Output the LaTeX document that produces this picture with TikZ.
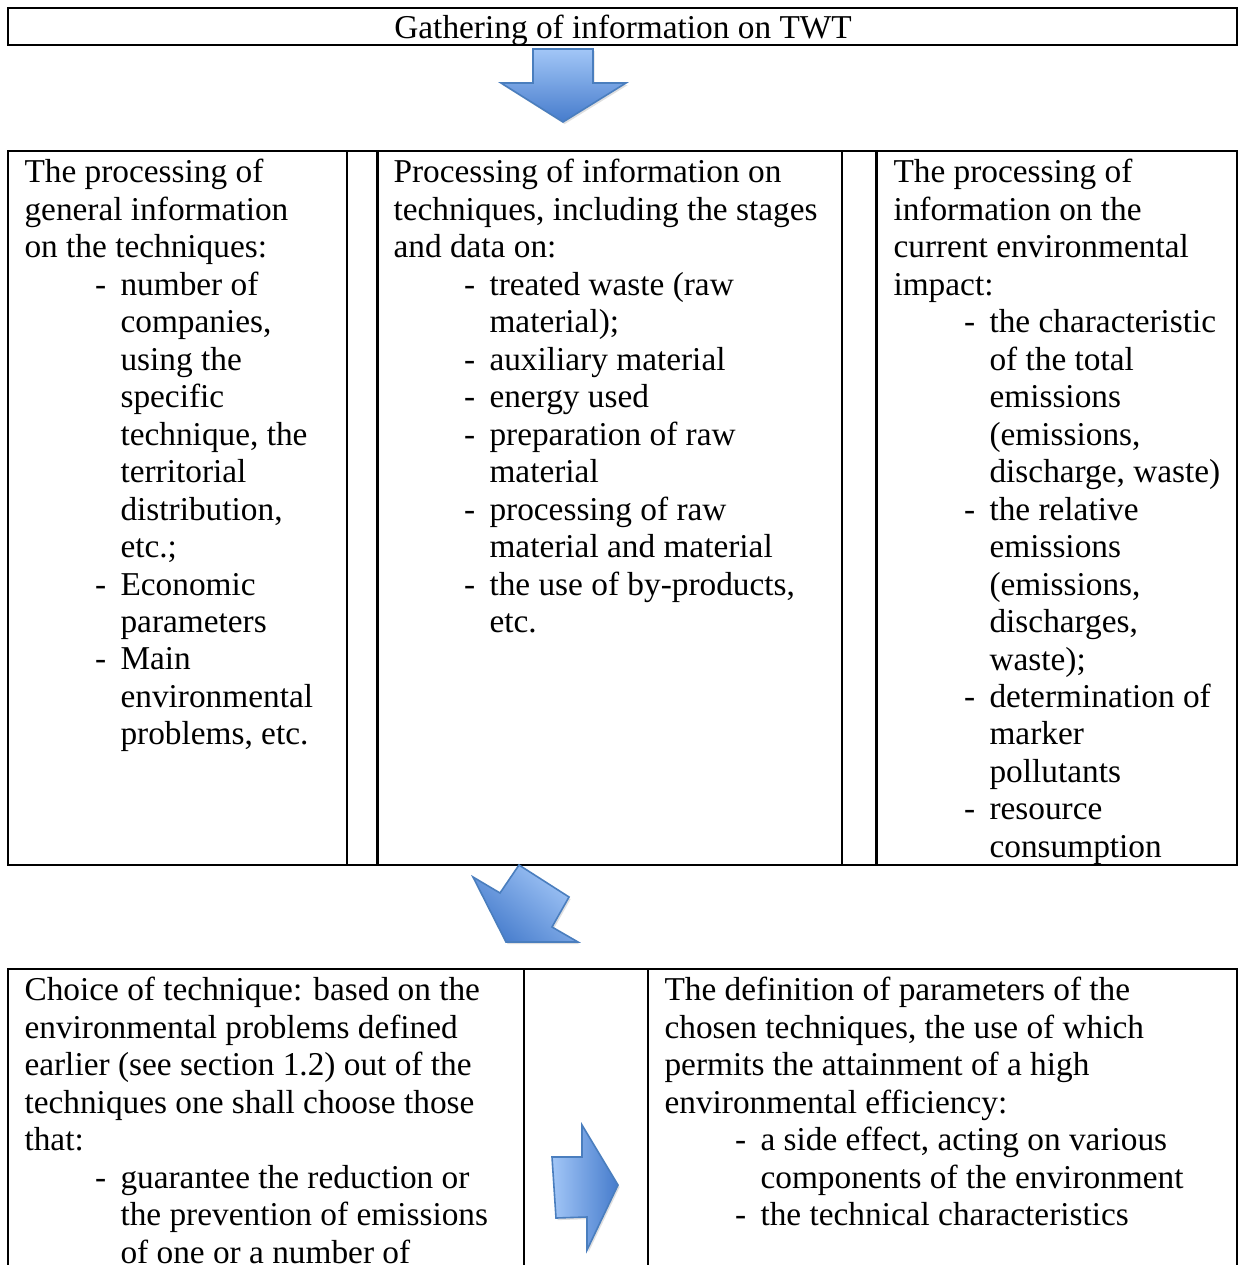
\documentclass[tikz,border=0pt]{standalone}
\usepackage{fontspec}
\setmainfont{Liberation Serif}
\usetikzlibrary{shadows}
\definecolor{arrowlight}{RGB}{162,198,247}
\definecolor{arrowdark}{RGB}{70,124,204}
\definecolor{arrowline}{RGB}{74,126,190}
\newcommand\itm[1]{\makebox[36pt][l]{\hspace*{26.5pt}-}#1}
\newcommand\cnt[1]{\hspace*{36pt}#1}
\tikzset{
  frame/.style={draw=black, line width=0.9pt},
  coltext/.style={anchor=north west, inner sep=0pt, align=left,
    font=\fontsize{12.5pt}{14.06pt}\selectfont},
  blockarrow/.style={draw=arrowline, line width=0.6pt, line join=miter,
    drop shadow={opacity=0.25, shadow xshift=0.6pt, shadow yshift=-0.8pt}},
}
\begin{document}
\begin{tikzpicture}[x=0.375pt, y=-0.375pt]
\useasboundingbox (0,0) rectangle (1239,1265);
\clip (0,0) rectangle (1239,1265);
\fill[white] (0,0) rectangle (1239,1265);

% top box
\draw[frame] (8,8) rectangle (1237,45);
\node[inner sep=0pt, anchor=base, font=\fontsize{12.5pt}{14.06pt}\selectfont] (gather) at (623,38.5) {Gathering of information on TWT};

% arrow 1 (down)
\path[blockarrow, top color=arrowlight, bottom color=arrowdark]
  (533,49) -- (593,49) -- (593,83) -- (626,83) -- (563,122) -- (501,83) -- (533,83) -- cycle;

% middle table
\draw[frame] (8,151) rectangle (1237,865);
\draw[frame] (347,151) -- (347,865);
\draw[frame] (377.5,151) -- (377.5,865);
\draw[frame] (842,151) -- (842,865);
\draw[frame] (876.5,151) -- (876.5,865);

\node[coltext] (general) at (24,155.8) {\strut The processing of\\
general information\\
on the techniques:\\
\itm{number of}\\
\cnt{companies,}\\
\cnt{using the}\\
\cnt{specific}\\
\cnt{technique, the}\\
\cnt{territorial}\\
\cnt{distribution,}\\
\cnt{etc.;}\\
\itm{Economic}\\
\cnt{parameters}\\
\itm{Main}\\
\cnt{environmental}\\
\cnt{problems, etc.}};

\node[coltext] (techniques) at (393,155.8) {\strut Processing of information on\\
techniques, including the stages\\
and data on:\\
\itm{treated waste (raw}\\
\cnt{material);}\\
\itm{auxiliary material}\\
\itm{energy used}\\
\itm{preparation of raw}\\
\cnt{material}\\
\itm{processing of raw}\\
\cnt{material and material}\\
\itm{the use of by-products,}\\
\cnt{etc.}};

\node[coltext] (impact) at (893,155.8) {\strut The processing of\\
information on the\\
current environmental\\
impact:\\
\itm{the characteristic}\\
\cnt{of the total}\\
\cnt{emissions}\\
\cnt{(emissions,}\\
\cnt{discharge, waste)}\\
\itm{the relative}\\
\cnt{emissions}\\
\cnt{(emissions,}\\
\cnt{discharges,}\\
\cnt{waste);}\\
\itm{determination of}\\
\cnt{marker}\\
\cnt{pollutants}\\
\itm{resource}\\
\cnt{consumption}};

% arrow 2 (diagonal)
\path[blockarrow, top color=arrowlight, bottom color=arrowdark, shading angle=-40]
  (519,865) -- (569,897) -- (552,927) -- (578,942) -- (506,942) -- (473,877) -- (500,893) -- cycle;

% bottom table
\draw[frame] (8,1300) -- (8,969) -- (1237,969) -- (1237,1300);
\draw[frame] (524,969) -- (524,1300);
\draw[frame] (648,969) -- (648,1300);

\node[coltext] (choice) at (24,973.8) {\strut Choice of technique: based on the\\
environmental problems defined\\
earlier (see section 1.2) out of the\\
techniques one shall choose those\\
that:\\
\itm{guarantee the reduction or}\\
\cnt{the prevention of emissions}\\
\cnt{of one or a number of}};

\node[coltext] (params) at (664,973.8) {\strut The definition of parameters of the\\
chosen techniques, the use of which\\
permits the attainment of a high\\
environmental efficiency:\\
\itm{a side effect, acting on various}\\
\cnt{components of the environment}\\
\itm{the technical characteristics}};

% arrow 3 (right)
\path[blockarrow, left color=arrowlight, right color=arrowdark]
  (552,1157) -- (582,1157) -- (582,1125) -- (618,1185) -- (587,1250) -- (587,1217) -- (556,1218) -- cycle;
\end{tikzpicture}
\end{document}
